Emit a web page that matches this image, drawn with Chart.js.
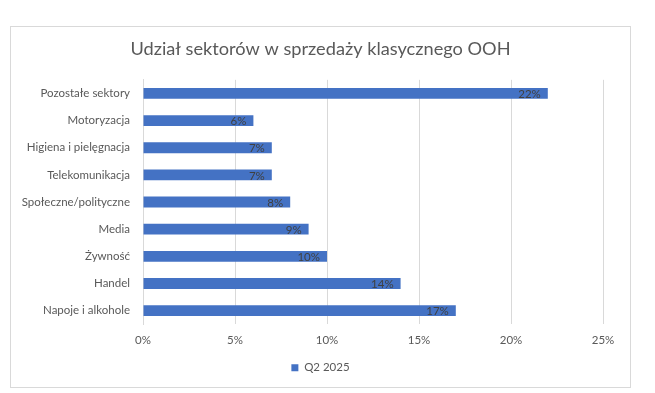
<!DOCTYPE html>
<html lang="pl">
<head>
<meta charset="utf-8">
<title>Udział sektorów w sprzedaży klasycznego OOH</title>
<script src="https://cdn.jsdelivr.net/npm/chart.js@4/dist/chart.umd.min.js"></script>
<style>
    html, body { margin: 0; padding: 0; background: #fff; }
    #wrap {
        position: absolute; left: 10px; top: 26px;
        width: 621px; height: 362px; box-sizing: border-box;
        border: 1px solid #d9d9d9; background: #fff;
    }
    #chartCanvas { display: block; }
</style>
</head>
<body>
<div id="wrap"><canvas id="chartCanvas" width="619" height="360"></canvas></div>
<script>
// --- dane z wykresu ---
const sectors = ["Pozostałe sektory", "Motoryzacja", "Higiena i pielęgnacja", "Telekomunikacja", "Społeczne/polityczne", "Media", "Żywność", "Handel", "Napoje i alkohole"];
const shareQ2 = [22, 6, 7, 7, 8, 9, 10, 14, 17];
const seriesName = "Q2 2025";
const xTicks = [0, 5, 10, 15, 20, 25];

const FONT = "Lato, 'Open Sans', sans-serif";

// etykiety wartości wewnątrz końca słupka (jak w Excelu)
const barValueLabels = {
    id: 'barValueLabels',
    afterDatasetsDraw(chart) {
        const ctx = chart.ctx;
        ctx.save();
        ctx.font = `11.5px ${FONT}`;
        ctx.fillStyle = '#404040';
        ctx.textAlign = 'right';
        ctx.textBaseline = 'middle';
        chart.getDatasetMeta(0).data.forEach((bar, i) => {
            ctx.fillText(shareQ2[i] + '%', bar.x - 7, bar.y + 1);
        });
        ctx.restore();
    }
};

const ctx = document.getElementById('chartCanvas').getContext('2d');
new Chart(ctx, {
    type: 'bar',
    data: {
        labels: sectors,
        datasets: [{
            label: seriesName, data: shareQ2,
            backgroundColor: '#4472C4', borderWidth: 0,
            categoryPercentage: 1, barPercentage: 0.4
        }]
    },
    options: {
        indexAxis: 'y',
        responsive: false, animation: false,
        layout: { padding: { left: 0, right: 0, top: 0, bottom: 3.5 } },
        plugins: {
            title: {
                display: true, text: 'Udział sektorów w sprzedaży klasycznego OOH',
                color: '#595959', font: { family: FONT, size: 18.2, weight: 'normal' },
                padding: { top: 11, bottom: 20 }
            },
            legend: {
                position: 'bottom',
                labels: {
                    color: '#595959', font: { family: FONT, size: 11.5 },
                    boxWidth: 7, boxHeight: 7, padding: 6
                }
            },
            tooltip: { enabled: false }
        },
        scales: {
            x: {
                min: 0, max: 25,
                afterBuildTicks: (scale) => { scale.ticks = xTicks.map(v => ({ value: v })); },
                ticks: { color: '#595959', font: { family: FONT, size: 11.5 }, padding: 9, callback: (v) => v + '%' },
                grid: { color: '#d9d9d9', drawTicks: false },
                border: { display: false }
            },
            y: {
                afterFit: (scale) => { scale.width = 132; },
                ticks: { color: '#595959', font: { family: FONT, size: 11.5 }, padding: 13 },
                grid: { display: false, drawTicks: false },
                border: { display: true, color: '#d9d9d9' }
            },
            // pusta oś po prawej - tylko margines, żeby tytuł i legenda były na środku ramki
            yRight: {
                type: 'category', position: 'right',
                afterFit: (scale) => { scale.width = 27; },
                ticks: { display: false },
                grid: { display: false, drawTicks: false },
                border: { display: false }
            }
        }
    },
    plugins: [barValueLabels]
});
</script>
</body>
</html>
